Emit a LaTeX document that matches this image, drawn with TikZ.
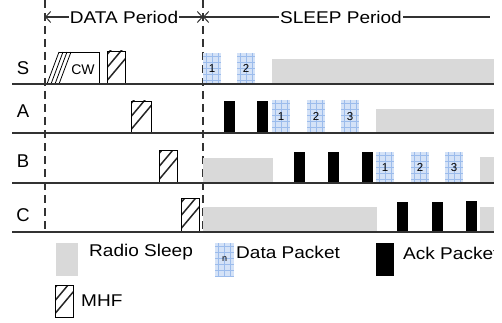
\documentclass[tikz,border=0pt]{standalone}
\usepackage{fontspec}
\setmainfont{Liberation Sans}
\usetikzlibrary{arrows.meta}

\definecolor{sleepgray}{RGB}{217,217,217}
\definecolor{pktblue}{RGB}{212,226,247}
\definecolor{pktgrid}{RGB}{156,188,236}
\definecolor{axisgray}{RGB}{50,50,50}

% slightly widened sans text
\newcommand\wtext[1]{\scalebox{1.12}[1]{#1}}

\tikzset{
  axisline/.style={axisgray, line width=1.3pt},
  phasedash/.style={black!80, line width=1.3pt, dash pattern=on 8pt off 5pt},
  spanline/.style={axisgray, line width=1.2pt},
  spantip/.tip={Straight Barb[length=5pt,width=11pt,line width=1pt]},
  sleepbox/.style={fill=sleepgray},
  ackbox/.style={fill=black},
  lbl/.style={font=\fontsize{17}{19}\selectfont, inner sep=1pt},
  rowlbl/.style={font=\fontsize{18.5}{20}\selectfont, inner sep=0pt},
  numlbl/.style={font=\fontsize{11.5}{12}\selectfont, inner sep=0pt},
  hatchline/.style={line width=1.5pt, black!85},
}

% hatched MHF frame: x1 y1 x2 y2
\newcommand\mhfrect[4]{%
  \begin{scope}
    \clip (#1,#2) rectangle (#3,#4);
    \foreach \k in {0,...,4}
      \draw[hatchline] (#1-2,#4-1-\k*13) -- ++(26,-31);
  \end{scope}
  \draw[line width=0.9pt] (#1,#2) rectangle (#3,#4);
}

% data packet: x1 y1 x2 y2 node-name label
\newcommand\datapkt[6]{%
  \fill[pktblue] (#1,#2) rectangle (#3,#4);
  \begin{scope}
    \clip (#1,#2) rectangle (#3,#4);
    \foreach \g in {3,9,...,39} {
      \draw[pktgrid, line width=0.7pt] (#1+\g,#2) -- (#1+\g,#4);
      \draw[pktgrid, line width=0.7pt] (#1,#2+\g) -- (#3,#2+\g);
    }
  \end{scope}
  \node[numlbl] (#5) at ({(#1+#3)/2},{(#2+#4)/2}) {#6};
}

\begin{document}
\begin{tikzpicture}[x=1pt,y=-1pt]
  \useasboundingbox (0,0) rectangle (502,323);
  \clip (0,0) rectangle (502,323);

  % ---- period spans ----
  \coordinate (dL) at (45,17);
  \coordinate (dR) at (203,17);
  \coordinate (sR) at (490,17);
  \draw[spanline, {spantip}-{spantip}] (dL) -- (dR);
  \draw[spanline, {spantip}-] (dR) -- (sR);
  \node[lbl, fill=white] (dataper) at (124,17) {\wtext{DATA Period}};
  \node[lbl, fill=white] (sleepper) at (341,17) {\wtext{SLEEP Period}};

  % ---- phase boundaries ----
  \coordinate (v1t) at (45,0);   \coordinate (v1b) at (45,230);
  \coordinate (v2t) at (203,0);  \coordinate (v2b) at (203,230);
  \draw[phasedash] (v1t) -- (v1b);
  \draw[phasedash] (v2t) -- (v2b);

  % ---- row S ----
  \fill[sleepgray] (272,59) rectangle (494,84);
  \datapkt{203}{53}{221}{84}{s1}{1}
  \datapkt{237}{53}{255}{84}{s2}{2}
  % contention window
  \draw[line width=0.9pt] (59,52) -- (99,52) -- (99,84);
  \foreach \d in {0,4,8,12}
    \draw[line width=0.8pt] (47+\d,84) -- (59+\d,52);
  \node[font=\fontsize{14}{15}\selectfont, inner sep=0pt] (cw) at (83,70) {CW};
  \mhfrect{107}{51}{125}{84}

  % ---- row A ----
  \mhfrect{131}{101}{151}{133}
  \fill[ackbox] (224,101) rectangle (235,133);
  \fill[ackbox] (257,101) rectangle (268,133);
  \datapkt{272}{100}{290}{133}{a1}{1}
  \datapkt{307}{100}{325}{133}{a2}{2}
  \datapkt{341}{100}{359}{133}{a3}{3}
  \fill[sleepgray] (376,109) rectangle (494,133);

  % ---- row B ----
  \mhfrect{159}{150}{177}{183}
  \fill[sleepgray] (203,158) rectangle (273,183);
  \fill[ackbox] (294,152) rectangle (305,183);
  \fill[ackbox] (328,152) rectangle (339,183);
  \fill[ackbox] (362,152) rectangle (373,183);
  \datapkt{376}{152}{394}{183}{b1}{1}
  \datapkt{411}{152}{429}{183}{b2}{2}
  \datapkt{445}{152}{463}{183}{b3}{3}
  \fill[sleepgray] (480,157) rectangle (494,183);

  % ---- row C ----
  \mhfrect{181}{198}{199}{232}
  \fill[sleepgray] (203,207) rectangle (377,232);
  \fill[ackbox] (397,202) rectangle (408,232);
  \fill[ackbox] (432,202) rectangle (443,232);
  \fill[ackbox] (466,201) rectangle (477,232);
  \fill[sleepgray] (480,207) rectangle (494,232);

  % ---- time axes ----
  \coordinate (sa) at (12,84);  \coordinate (sb) at (494,84);
  \coordinate (aa) at (12,133); \coordinate (ab) at (494,133);
  \coordinate (ba) at (12,183); \coordinate (bb) at (494,183);
  \coordinate (ca) at (12,232); \coordinate (cb) at (494,232);
  \draw[axisline] (sa) -- (sb);
  \draw[axisline] (aa) -- (ab);
  \draw[axisline] (ba) -- (bb);
  \draw[axisline] (ca) -- (cb);

  % ---- row labels ----
  \node[rowlbl] (rs) at (23,68) {S};
  \node[rowlbl] (ra) at (23,111) {A};
  \node[rowlbl] (rb) at (23,161) {B};
  \node[rowlbl] (rc) at (23,215) {C};

  % ---- legend ----
  \fill[sleepgray] (56,243) rectangle (78,276);
  \node[lbl, anchor=west] (lgsleep) at (88,252) {\wtext{Radio Sleep}};
  \datapkt{215}{243}{234}{276}{lgn}{\fontsize{9}{10}\selectfont n}
  \node[lbl, anchor=west] (lgdata) at (235,252) {\wtext{Data Packet}};
  \fill[ackbox] (376,243) rectangle (394,276);
  \begin{scope}
    \clip (0,236) rectangle (493,280);
    \node[lbl, anchor=west] (lgack) at (402,253) {\wtext{Ack Packet}};
  \end{scope}
  \mhfrect{55}{285}{73}{317}
  \node[lbl, anchor=west] (lgmhf) at (80,301) {\wtext{MHF}};
\end{tikzpicture}
\end{document}
